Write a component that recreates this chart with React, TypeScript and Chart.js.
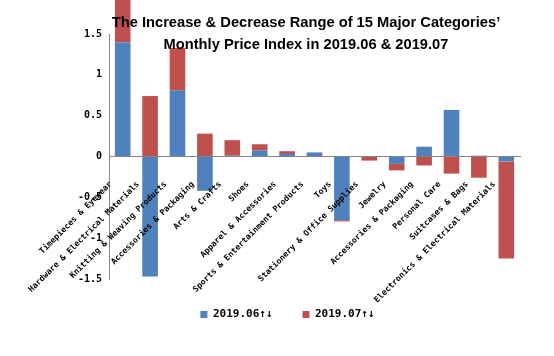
import React, { useEffect, useRef } from "react";
import { Chart, registerables } from "chart.js";

Chart.register(...registerables);

const categories = [
  "Timepieces & Eyewear",
  "Hardware & Electrical Materials",
  "Knitting & Weaving Products",
  "Accessories & Packaging",
  "Arts & Crafts",
  "Shoes",
  "Apparel & Accessories",
  "Sports & Entertainment Products",
  "Toys",
  "Stationery & Office Supplies",
  "Jewelry",
  "Accessories & Packaging",
  "Personal Care",
  "Suitcases & Bags",
  "Electronics & Electrical Materials",
];

const june = [1.4, -1.47, 0.81, -0.42, 0.01, 0.075, 0.03, 0.05, -0.78, 0, -0.09, 0.12, 0.57, 0.01, -0.06];
const july = [0.55, 0.74, 0.52, 0.28, 0.19, 0.075, 0.035, 0, -0.015, -0.05, -0.08, -0.11, -0.21, -0.26, -1.19];

const seriesNames = ["2019.06↑↓", "2019.07↑↓"];
const titleLines = [
  "The Increase & Decrease Range of 15 Major Categories’",
  "Monthly Price Index in 2019.06 & 2019.07",
];

const titlePlugin = {
  id: "overTitle",
  afterDatasetsDraw(chart: any) {
    const ctx = chart.ctx;
    ctx.save();
    ctx.fillStyle = "#000";
    ctx.font = "bold 14.7px 'Liberation Sans', sans-serif";
    ctx.textAlign = "center";
    ctx.textBaseline = "middle";
    ctx.fillText(titleLines[0], 306, 23);
    ctx.fillText(titleLines[1], 306, 45);
    ctx.restore();
  },
};

export default function App() {
  const ref = useRef<HTMLCanvasElement>(null);
  useEffect(() => {
    const chart = new Chart(ref.current!, {
      type: "bar",
      data: {
        labels: categories,
        datasets: [
          {
            label: seriesNames[0],
            data: june,
            backgroundColor: "#4F81BD",
            clip: false as any,
            barPercentage: 0.57,
            categoryPercentage: 1,
          },
          {
            label: seriesNames[1],
            data: july,
            backgroundColor: "#C0504D",
            clip: false as any,
            barPercentage: 0.57,
            categoryPercentage: 1,
          },
        ],
      },
      options: {
        animation: false,
        responsive: false,
        maintainAspectRatio: false,
        layout: { padding: { left: 55, right: 34, top: 34, bottom: 26 } },
        plugins: {
          title: { display: false },
          tooltip: { enabled: false },
          legend: {
            position: "bottom",
            labels: {
              boxWidth: 7,
              boxHeight: 7,
              padding: 30,
              color: "#000",
              font: { family: "'DejaVu Sans Mono', monospace", weight: "bold", size: 11 },
            },
          },
        },
        scales: {
          x: {
            stacked: true,
            position: { y: 0 } as any,
            grid: { display: false, drawTicks: false },
            border: { display: true, color: "#868686", width: 1, z: 1 } as any,
            ticks: {
              z: 1,
              autoSkip: false,
              maxRotation: 45,
              minRotation: 45,
              labelOffset: -12,
              padding: 23,
              color: "#000",
              font: { family: "'DejaVu Sans Mono', monospace", weight: "bold", size: 8.2 },
            } as any,
          },
          y: {
            stacked: true,
            min: -1.5,
            max: 1.5,
            afterFit: (s: any) => {
              s.width = 54;
            },
            grid: { display: false, drawTicks: false },
            border: { display: true, color: "#868686", width: 1 },
            ticks: {
              stepSize: 0.5,
              padding: 7,
              color: "#000",
              callback: (v: any) => String(Number(v)),
              font: { family: "'DejaVu Sans Mono', monospace", weight: "bold", size: 10 },
            },
          },
        },
      },
      plugins: [titlePlugin],
    });
    return () => chart.destroy();
  }, []);
  return (
    <div style={{ position: "fixed", left: 0, top: 0, width: 554, height: 356, background: "#fff" }}>
      <canvas ref={ref} width={554} height={356} />
    </div>
  );
}
